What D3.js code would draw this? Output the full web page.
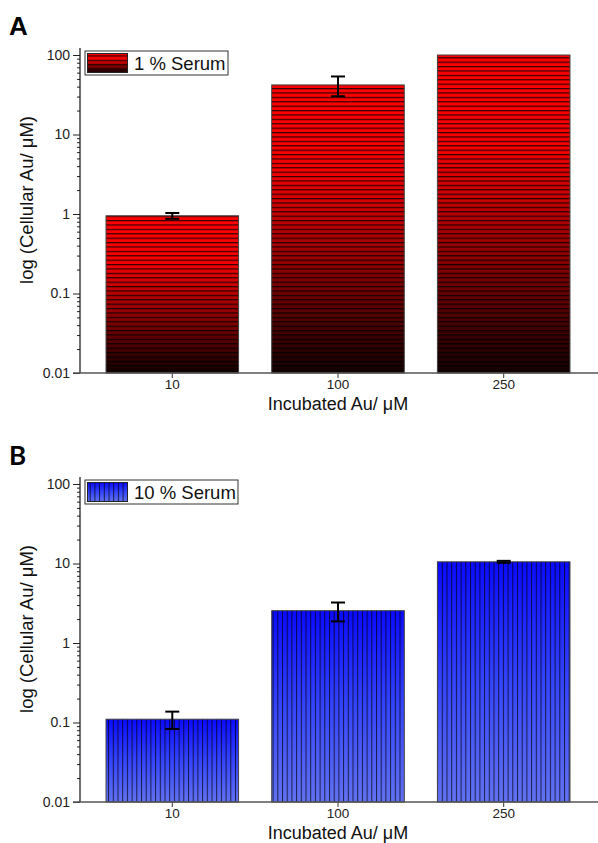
<!DOCTYPE html>
<html>
<head>
<meta charset="utf-8">
<script src="https://cdn.jsdelivr.net/npm/d3@7"></script>
<style>
  body { margin: 0; background: #fff; }
  text { font-family: "Liberation Sans", Arial, sans-serif; }
</style>
</head>
<body>
<div class="chart"></div>
<script>
// values
const concentrations = ['10', '100', '250'];
const serum1 = [0.95, 42, 100];
const serum1Err = [0.08, 11.7, 0];
const serum10 = [0.11, 2.55, 10.5];
const serum10Err = [0.027, 0.68, 0.3];
const yTicks = [0.01, 0.1, 1, 10, 100];
const minorTicks = [];
[0.01, 0.1, 1, 10].forEach(d => { for (let k = 2; k <= 9; k++) minorTicks.push(d * k); });

const width = 598, height = 843;
const svg = d3.select('.chart').append('svg')
  .attr('width', width)
  .attr('height', height);

const defs = svg.append('defs');

// red gradient, top to bottom
const redGrad = defs.append('linearGradient')
  .attr('id', 'redGrad').attr('x1', 0).attr('y1', 0).attr('x2', 0).attr('y2', 1);
[[0, '#ff0000'], [0.3, '#f40000'], [0.6, '#990000'], [0.85, '#440000'], [1, '#120000']]
  .forEach(s => redGrad.append('stop').attr('offset', s[0]).attr('stop-color', s[1]));

const blueGrad = defs.append('linearGradient')
  .attr('id', 'blueGrad').attr('x1', 0).attr('y1', 0).attr('x2', 0).attr('y2', 1);
[[0, '#0a0aff'], [0.5, '#3444fb'], [1, '#6272f2']]
  .forEach(s => blueGrad.append('stop').attr('offset', s[0]).attr('stop-color', s[1]));

// stripe patterns
const hLines = defs.append('pattern')
  .attr('id', 'hLines').attr('patternUnits', 'userSpaceOnUse')
  .attr('width', 10).attr('height', 4.4);
hLines.append('line')
  .attr('x1', 0).attr('x2', 10).attr('y1', 0.6).attr('y2', 0.6)
  .attr('stroke', '#000').attr('stroke-width', 1.2).attr('stroke-opacity', 0.8);

const vLines = defs.append('pattern')
  .attr('id', 'vLines').attr('patternUnits', 'userSpaceOnUse')
  .attr('width', 4.7).attr('height', 10);
vLines.append('line')
  .attr('y1', 0).attr('y2', 10).attr('x1', 0.5).attr('x2', 0.5)
  .attr('stroke', '#000').attr('stroke-width', 1).attr('stroke-opacity', 0.7);

function drawPanel(opt) {
  const g = svg.append('g');
  const left = 80, right = 596;

  const x = d3.scaleBand()
    .domain(concentrations)
    .range([left, right])
    .paddingInner(0.2)
    .paddingOuter(0.157);

  const y = d3.scaleLog()
    .domain([0.01, 100])
    .range([opt.bottom, opt.top]);

  // bars
  const bars = g.selectAll('.bar')
    .data(opt.values)
    .enter().append('g').attr('class', 'bar');
  bars.append('rect')
    .attr('x', (d, i) => x(concentrations[i]))
    .attr('width', x.bandwidth())
    .attr('y', d => y(d))
    .attr('height', d => y(0.01) - y(d))
    .attr('fill', `url(#${opt.grad})`);
  bars.append('rect')
    .attr('x', (d, i) => x(concentrations[i]))
    .attr('width', x.bandwidth())
    .attr('y', d => y(d))
    .attr('height', d => y(0.01) - y(d))
    .attr('fill', `url(#${opt.pattern})`)
    .attr('stroke', '#444')
    .attr('stroke-width', 1);

  // error bars
  const capW = 7;
  opt.values.forEach((v, i) => {
    const e = opt.errors[i];
    if (!e) return;
    const cx = x(concentrations[i]) + x.bandwidth() / 2;
    const eb = g.append('g').attr('stroke', '#000').attr('stroke-width', 2);
    eb.append('line').attr('x1', cx).attr('x2', cx).attr('y1', y(v + e)).attr('y2', y(v - e));
    eb.append('line').attr('x1', cx - capW).attr('x2', cx + capW).attr('y1', y(v + e)).attr('y2', y(v + e));
    eb.append('line').attr('x1', cx - capW).attr('x2', cx + capW).attr('y1', y(v - e)).attr('y2', y(v - e));
  });

  // y axis
  const yAxis = d3.axisLeft(y)
    .tickValues(yTicks)
    .tickFormat(d => String(d))
    .tickSize(7)
    .tickSizeOuter(0)
    .tickPadding(3);
  const ya = g.append('g')
    .attr('class', 'axis y-axis')
    .attr('transform', `translate(${left},0)`)
    .call(yAxis);
  ya.select('.domain').remove();
  ya.selectAll('text').attr('font-size', 14).attr('fill', '#222')
    .style('font-family', '"Liberation Sans", Arial, sans-serif');
  ya.selectAll('line').attr('stroke', '#222');

  const yMinor = d3.axisLeft(y).tickValues(minorTicks).tickFormat('').tickSize(3).tickSizeOuter(0);
  const ym = g.append('g')
    .attr('transform', `translate(${left},0)`)
    .call(yMinor);
  ym.select('.domain').remove();
  ym.selectAll('line').attr('stroke', '#222');

  g.append('line')
    .attr('x1', left).attr('x2', left)
    .attr('y1', opt.top - 7).attr('y2', opt.bottom)
    .attr('stroke', '#111').attr('stroke-width', 1.2);

  // x axis
  const xAxis = d3.axisBottom(x).tickSize(5).tickSizeOuter(0).tickPadding(1);
  const xa = g.append('g')
    .attr('class', 'axis x-axis')
    .attr('transform', `translate(0,${opt.bottom})`)
    .call(xAxis);
  xa.select('.domain').remove();
  xa.selectAll('text').attr('font-size', 13.5).attr('fill', '#222')
    .style('font-family', '"Liberation Sans", Arial, sans-serif');
  xa.selectAll('line').attr('stroke', '#333');
  g.append('line')
    .attr('x1', left - 7).attr('x2', 598)
    .attr('y1', opt.bottom).attr('y2', opt.bottom)
    .attr('stroke', '#555').attr('stroke-width', 1.5);

  // axis titles
  g.append('text')
    .attr('x', x(concentrations[1]) + x.bandwidth() / 2)
    .attr('y', opt.bottom + 37)
    .attr('text-anchor', 'middle')
    .attr('font-size', 18)
    .attr('fill', '#111')
    .text('Incubated Au/ μM');

  g.append('text')
    .attr('transform', `translate(33,${(opt.top + opt.bottom) / 2 - 14}) rotate(-90)`)
    .attr('text-anchor', 'middle')
    .attr('font-size', 18.5)
    .attr('fill', '#111')
    .text('log (Cellular Au/ μM)');

  // panel letter
  g.append('text')
    .attr('x', 9)
    .attr('y', opt.letterY)
    .attr('font-size', 26)
    .attr('font-weight', 'bold')
    .style('font-family', opt.letterFont)
    .attr('fill', '#000')
    .text(opt.letter);

  // legend
  const lg = g.append('g').attr('transform', `translate(85,${opt.top - 4})`);
  lg.append('rect')
    .attr('width', opt.legendW).attr('height', 24)
    .attr('fill', '#fff').attr('stroke', '#333').attr('stroke-width', 1);
  lg.append('rect')
    .attr('x', 2.5).attr('y', 2.5).attr('width', 40).attr('height', 19)
    .attr('fill', `url(#${opt.grad})`);
  lg.append('rect')
    .attr('x', 2.5).attr('y', 2.5).attr('width', 40).attr('height', 19)
    .attr('fill', `url(#${opt.pattern})`)
    .attr('stroke', '#222').attr('stroke-width', 1);
  lg.append('text')
    .attr('x', 49).attr('y', 18.5)
    .attr('font-size', 18.5)
    .attr('fill', '#111')
    .text(opt.label);
}

drawPanel({
  top: 55, bottom: 373, values: serum1, errors: serum1Err,
  grad: 'redGrad', pattern: 'hLines', label: '1 % Serum', legendW: 143,
  letter: 'A', letterY: 35, letterFont: '"Liberation Sans", Arial, sans-serif'
});

drawPanel({
  top: 484, bottom: 802, values: serum10, errors: serum10Err,
  grad: 'blueGrad', pattern: 'vLines', label: '10 % Serum', legendW: 153,
  letter: 'B', letterY: 465, letterFont: 'Lato, "Open Sans", sans-serif'
});
</script>
</body>
</html>
